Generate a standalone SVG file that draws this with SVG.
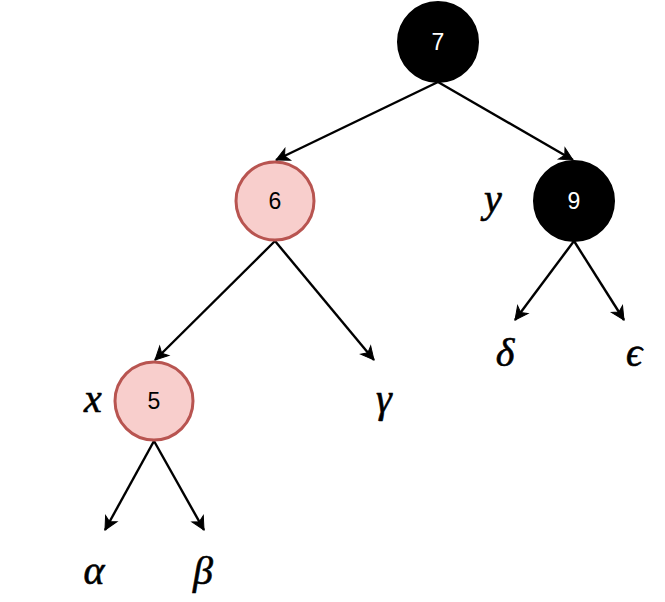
<svg xmlns="http://www.w3.org/2000/svg" width="665" height="602" viewBox="0 0 665 602">
<style>
.blk{fill:#000;stroke:#000;stroke-width:2}
.red{fill:#f8cecc;stroke:#b85450;stroke-width:3}
.num{font-family:"Liberation Sans",Arial,sans-serif;font-size:23px;text-anchor:middle;dominant-baseline:central}
.wt{fill:#fff}
.math{font-family:"Liberation Serif","Times New Roman",serif;font-style:italic;font-size:40px;text-anchor:middle;stroke:#000;stroke-width:0.6}
.edge{stroke:#000;stroke-width:2.4;fill:none;marker-end:url(#arr)}
</style>
<defs>
<marker id="arr" markerUnits="userSpaceOnUse" markerWidth="18" markerHeight="16" viewBox="-15 -8 18 16" refX="0" refY="0" orient="auto">
<path d="M0,0 L-13,-6.5 L-9.5,0 L-13,6.5 Z" fill="#000" stroke="#000" stroke-width="1"/>
</marker>
</defs>
<g id="connectors">
<line class="edge" x1="438" y1="82" x2="276" y2="160"/>
<line class="edge" x1="438" y1="82" x2="573" y2="160"/>
<line class="edge" x1="275" y1="241" x2="155" y2="360"/>
<line class="edge" x1="275" y1="241" x2="374" y2="360"/>
<line class="edge" x1="574" y1="241" x2="515" y2="320"/>
<line class="edge" x1="574" y1="241" x2="624" y2="320"/>
<line class="edge" x1="154" y1="441" x2="105" y2="530"/>
<line class="edge" x1="154" y1="441" x2="204" y2="530"/>
</g>
<g id="node7"><circle class="blk" cx="438" cy="42" r="40"/><text class="num wt" x="438" y="42">7</text></g>
<g id="node6"><circle class="red" cx="275" cy="201" r="39"/><text class="num" x="275" y="201">6</text></g>
<g id="node9"><circle class="blk" cx="574" cy="201" r="40"/><text class="num wt" x="574" y="201">9</text></g>
<g id="node5"><circle class="red" cx="154" cy="401" r="39"/><text class="num" x="154" y="401">5</text></g>
<g id="labels">
<text class="math" x="493" y="212">y</text>
<text class="math" x="93" y="412">x</text>
<text class="math" x="384" y="412">γ</text>
<text class="math" x="505" y="366">δ</text>
<text class="math" x="634" y="366">ϵ</text>
<text class="math" x="94" y="584">α</text>
<text class="math" x="203" y="584">β</text>
</g>
</svg>
